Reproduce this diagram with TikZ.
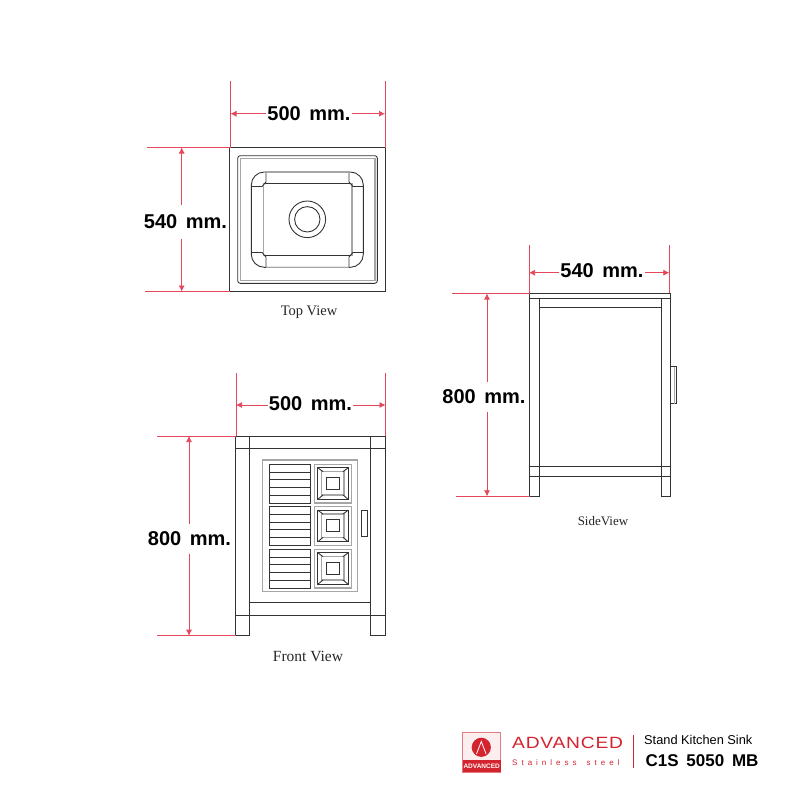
\documentclass[tikz,border=0pt]{standalone}
\usepackage{fontspec}
\setmainfont{Liberation Sans}
\newfontfamily\labelfont{Liberation Serif}
\definecolor{dimred}{HTML}{E4485A}
\definecolor{logored}{HTML}{D3232F}
\definecolor{logopink}{HTML}{F7D5D5}
\definecolor{linegray}{HTML}{333333}
\tikzset{
    part/.style={draw=linegray, line width=0.9pt},
    softpart/.style={draw=gray!70, line width=1.1pt},
    extline/.style={draw=dimred, line width=0.7pt},
    dimline/.style={draw=dimred, line width=0.7pt, -{Latex[length=6pt,width=6pt]}},
    dimlabel/.style={font=\fontsize{20}{20}\selectfont\bfseries, inner sep=1pt, minimum height=29pt},
    viewlabel/.style={font=\fontsize{#1}{#1}\selectfont\labelfont, text=black!85}
}
\usetikzlibrary{arrows.meta}
\newcommand{\dimtext}[1]{#1\hspace{3pt} mm.}
\begin{document}
\begin{tikzpicture}[x=1pt, y=-1pt]
    \useasboundingbox (0, 0) rectangle (800, 800);
    % top view
    \draw [part] (229.5, 147.5) rectangle (385.5, 291.5);
    \draw [part, rounded corners=2.5pt] (237.7, 155.7) rectangle (377.3, 283.3);
    \draw [softpart] (240.3, 158.3) rectangle (375, 280.5);
    \draw [part, rounded corners=13pt] (251.3, 172) rectangle (363.3, 267.3);
    \draw [part] (263.3, 183.3) rectangle (352, 255.7);
    \draw [softpart] (263.3, 183.3)--(263.3, 255.7) (352, 183.3)--(352, 255.7);
    \draw [part] (251.3, 186.5)--(262, 186.5)--(266, 182)--(266, 172);
    \draw [part] (363.3, 186.5)--(353, 186.5)--(349, 182)--(349, 172);
    \draw [part] (251.3, 252.5)--(262, 252.5)--(266, 257)--(266, 267.3);
    \draw [part] (363.3, 252.5)--(353, 252.5)--(349, 257)--(349, 267.3);
    \draw [part] (307.3, 219.3) circle (18.3) circle (12.7);
    \draw [softpart] (266, 172)--(349, 172) (266, 267.3)--(349, 267.3);
    % top view dimensions
    \coordinate (topA) at (230.5, 113.7);
    \coordinate (topB) at (385, 113.7);
    \coordinate (topC) at (181.7, 147.5);
    \coordinate (topD) at (181.7, 291.5);
    \node [dimlabel] (topwidth) at (309, 113.7) {\dimtext{500}};
    \node [dimlabel, minimum height=33pt] (topdepth) at (185.5, 222) {\dimtext{540}};
    \draw [extline] (230.5, 81)--(230.5, 147.5) (385, 81)--(385, 147.5);
    \draw [extline] (147, 147.5)--(229.5, 147.5) (145, 291.5)--(229.5, 291.5);
    \draw [dimline] (topwidth.west |- topA)--(topA);
    \draw [dimline] (topwidth.east |- topB)--(topB);
    \draw [dimline] (topC |- topdepth.north)--(topC);
    \draw [dimline] (topD |- topdepth.south)--(topD);
    \node [viewlabel=14.5] (toplabel) at (309, 312.5) {Top View};
    % front view
    \draw [part] (235.7, 436) rectangle (385.7, 448.7);
    \draw [part] (235.7, 448.7)--(235.7, 635.7)--(249.3, 635.7)--(249.3, 436);
    \draw [part] (385.7, 448.7)--(385.7, 635.7)--(370.7, 635.7)--(370.7, 436);
    \draw [part] (249.3, 602.3)--(370.7, 602.3);
    \draw [part] (235.7, 615)--(385.7, 615);
    \draw [softpart] (262.3, 460) rectangle (357.7, 591.3);
    \foreach \ya in {464.3, 506.7, 549.3} {
        \draw [part] (269.3, \ya) rectangle (310.7, \ya+38.7);
        \foreach \n in {1, 2, 3, 4} {
            \draw [part] (269.3, \ya+7.74*\n)--(310.7, \ya+7.74*\n);
        }
        \draw [softpart] (314.7, \ya) rectangle (351.5, \ya+38.7);
        \draw [part] (317.8, \ya+3.5) rectangle (348.2, \ya+35);
        \draw [softpart] (321.5, \ya+7.3) rectangle (344, \ya+30.7);
        \draw [part] (326.2, \ya+12.7) rectangle (339.2, \ya+25);
        \draw [part] (317.8, \ya+3.5)--(323, \ya+7.3) (348.2, \ya+3.5)--(343, \ya+7.3);
        \draw [part] (317.8, \ya+35)--(323, \ya+30.7) (348.2, \ya+35)--(343, \ya+30.7);
    }
    \draw [part] (361.3, 510.7) rectangle (367.7, 536.3);
    % front view dimensions
    \coordinate (frontA) at (236, 405);
    \coordinate (frontB) at (385.5, 405);
    \coordinate (frontC) at (189, 436);
    \coordinate (frontD) at (189, 635.7);
    \node [dimlabel] (frontwidth) at (310.5, 404) {\dimtext{500}};
    \node [dimlabel] (frontheight) at (189.5, 539) {\dimtext{800}};
    \draw [extline] (236, 373)--(236, 436) (385.5, 373)--(385.5, 436);
    \draw [extline] (157, 436)--(235.7, 436) (157, 635.7)--(235.7, 635.7);
    \draw [dimline] (frontwidth.west |- frontA)--(frontA);
    \draw [dimline] (frontwidth.east |- frontB)--(frontB);
    \draw [dimline] (frontC |- frontheight.north)--(frontC);
    \draw [dimline] (frontD |- frontheight.south)--(frontD);
    \node [viewlabel=15.5] (frontlabel) at (308, 656.5) {Front View};
    % side view
    \draw [part] (529.7, 293.3) rectangle (670, 298.3);
    \draw [part] (529.7, 298.3)--(529.7, 496.3)--(539, 496.3)--(539, 298.3);
    \draw [part] (670, 298.3)--(670, 496.3)--(661, 496.3)--(661, 298.3);
    \draw [part] (539, 307.3)--(661, 307.3);
    \draw [part] (529.7, 466.7)--(670, 466.7) (529.7, 476.3)--(670, 476.3);
    \draw [part] (670.7, 366.7) rectangle (676.7, 403.7);
    \draw [softpart] (674.8, 366.7)--(674.8, 403.7);
    % side view dimensions
    \coordinate (sideA) at (529, 272.7);
    \coordinate (sideB) at (669.3, 272.7);
    \coordinate (sideC) at (487, 293.5);
    \coordinate (sideD) at (487, 496.3);
    \node [dimlabel] (sidewidth) at (602, 271) {\dimtext{540}};
    \node [dimlabel] (sideheight) at (484, 397) {\dimtext{800}};
    \draw [extline] (529, 245)--(529, 293.3) (669.3, 245)--(669.3, 293.3);
    \draw [extline] (452, 293.3)--(529.7, 293.3) (456, 496.3)--(529.7, 496.3);
    \draw [dimline] (sidewidth.west |- sideA)--(sideA);
    \draw [dimline] (sidewidth.east |- sideB)--(sideB);
    \draw [dimline] (sideC |- sideheight.north)--(sideC);
    \draw [dimline] (sideD |- sideheight.south)--(sideD);
    \node [viewlabel=13] (sidelabel) at (603, 521) {SideView};
    % logo
    \draw [draw=logored!60, fill=logopink!40, line width=0.6pt] (462.7, 732.3) rectangle (500.7, 772.3);
    \fill [logored] (481.3, 747.3) circle (9.6);
    \draw [white, line width=0.8pt] (476.5, 754)--(481.3, 741.5)--(486.1, 754);
    \fill [logored] (462.7, 760) rectangle (500.7, 772.3);
    \node [font=\fontsize{6.5}{6.5}\selectfont\bfseries, text=white, inner sep=0pt] (logotext) at (481.7, 766.2) {ADVANCED};
    \node [font=\fontsize{16.3}{16.3}\selectfont, text=logored, anchor=west, inner sep=0pt] (brand) at (512, 743) {\scalebox{1.18}[1]{\addfontfeature{LetterSpace=4}ADVANCED}};
    \node [font=\fontsize{8}{8}\selectfont, text=logored, anchor=west, inner sep=0pt] (subbrand) at (512, 762.7) {\addfontfeature{LetterSpace=50}Stainless\hspace{10pt}steel};
    \draw [logored, line width=1.5pt] (633.3, 735)--(633.3, 768.3);
    \node [font=\fontsize{12.8}{12.8}\selectfont, anchor=west, inner sep=0pt] (product) at (644, 739.5) {Stand Kitchen Sink};
    \node [font=\fontsize{17}{17}\selectfont\bfseries, anchor=west, inner sep=0pt] (model) at (645.5, 761) {C1S\hspace{3pt} 5050\hspace{3pt} MB};
\end{tikzpicture}
\end{document}
